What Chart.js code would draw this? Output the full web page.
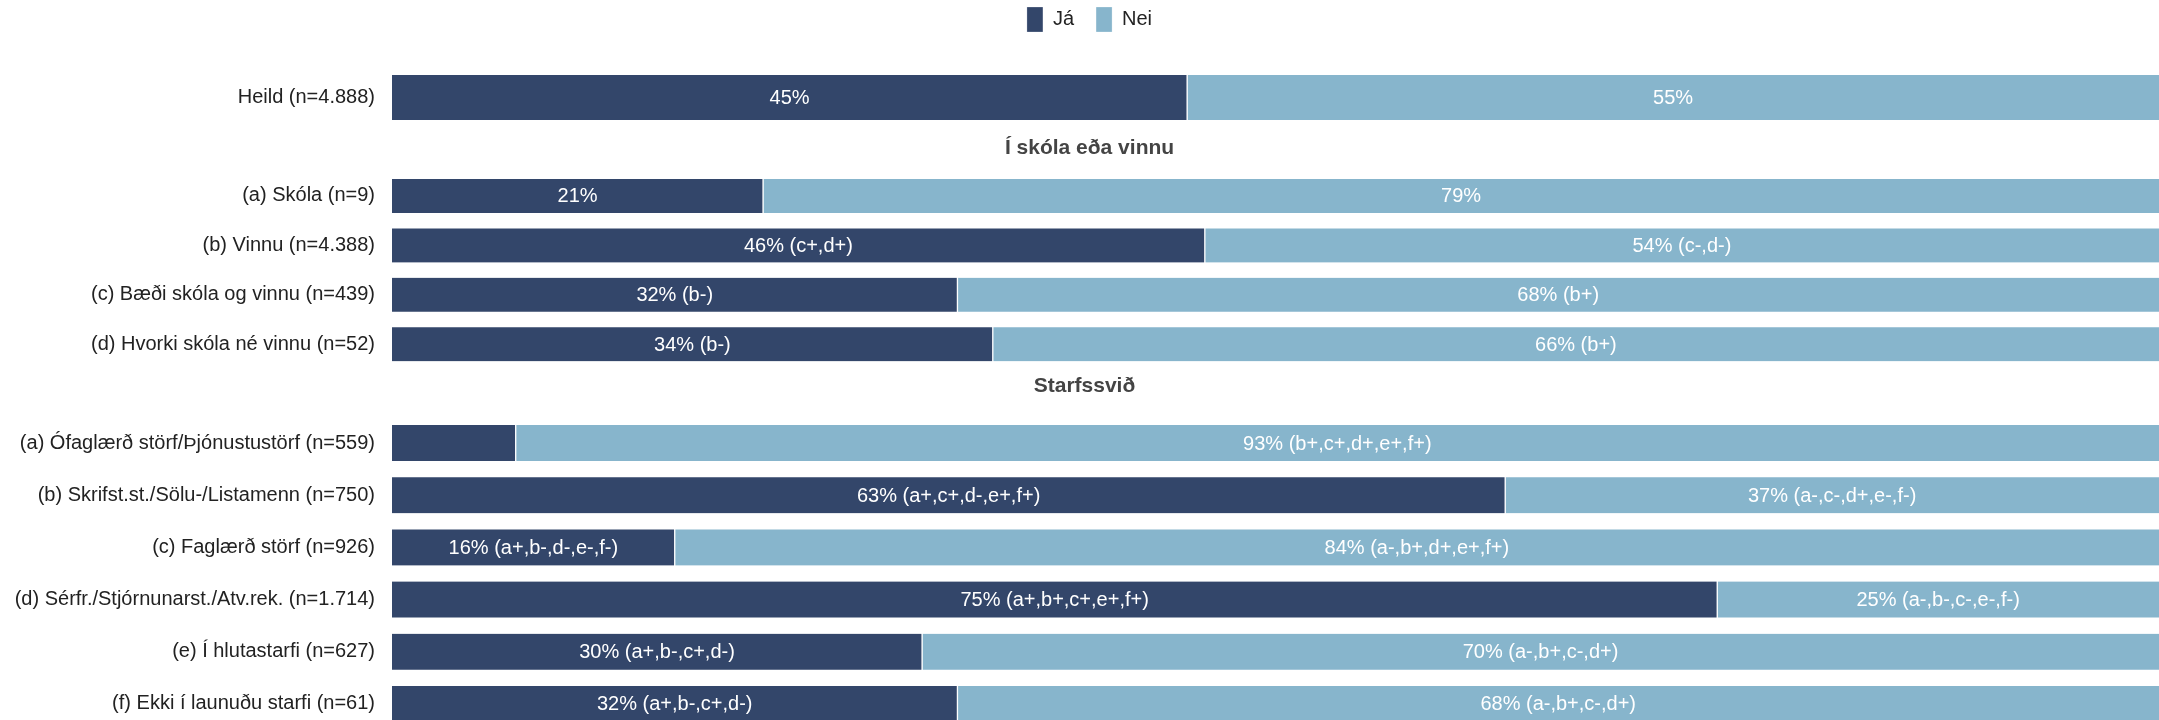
<!DOCTYPE html>
<html>
<head>
<meta charset="utf-8">
<script src="https://cdn.jsdelivr.net/npm/chart.js@4"></script>
<style>
  html, body { margin: 0; padding: 0; background: #fff; overflow: hidden; }
  .box { position: absolute; left: 0; width: 2159px; }
</style>
</head>
<body>
<div class="box" style="top:-15px;height:168px"><canvas id="heild"></canvas></div>
<div class="box" style="top:120px;height:249px"><canvas id="skoli"></canvas></div>
<div class="box" style="top:369px;height:361px"><canvas id="starf"></canvas></div>
<script>
// Series names
const seriesNames = ["Já", "Nei"];

// Heild
const heildCats = ["Heild (n=4.888)"];
const heildJa = [45];
const heildNei = [55];
const heildJaSuffix = [""];
const heildNeiSuffix = [""];

// Í skóla eða vinnu
const skoliTitle = "Í skóla eða vinnu";
const skoliCats = [
  "(a) Skóla (n=9)",
  "(b) Vinnu (n=4.388)",
  "(c) Bæði skóla og vinnu (n=439)",
  "(d) Hvorki skóla né vinnu (n=52)",
];
const skoliJa = [21, 46, 32, 34];
const skoliNei = [79, 54, 68, 66];
const skoliJaSuffix = ["", "(c+,d+)", "(b-)", "(b-)"];
const skoliNeiSuffix = ["", "(c-,d-)", "(b+)", "(b+)"];

// Starfssvið
const starfTitle = "Starfssvið";
const starfCats = [
  "(a) Ófaglærð störf/Þjónustustörf (n=559)",
  "(b) Skrifst.st./Sölu-/Listamenn (n=750)",
  "(c) Faglærð störf (n=926)",
  "(d) Sérfr./Stjórnunarst./Atv.rek. (n=1.714)",
  "(e) Í hlutastarfi (n=627)",
  "(f) Ekki í launuðu starfi (n=61)",
];
const starfJa = [7, 63, 16, 75, 30, 32];
const starfNei = [93, 37, 84, 25, 70, 68];
const starfJaSuffix = ["", "(a+,c+,d-,e+,f+)", "(a+,b-,d-,e-,f-)", "(a+,b+,c+,e+,f+)", "(a+,b-,c+,d-)", "(a+,b-,c+,d-)"];
const starfNeiSuffix = ["(b+,c+,d+,e+,f+)", "(a-,c-,d+,e-,f-)", "(a-,b+,d+,e+,f+)", "(a-,b-,c-,e-,f-)", "(a-,b+,c-,d+)", "(a-,b+,c-,d+)"];

const darkBlue = "#33466a";
const lightBlue = "#87b5cc";
const fontFamily = '"Liberation Sans", Arial, sans-serif';
const plotLeft = 392; // bars start here in every block

// white percentage labels in the middle of each segment
const barLabels = {
  id: "barLabels",
  afterDatasetsDraw(chart) {
    const ctx = chart.ctx;
    ctx.save();
    ctx.font = "20px " + fontFamily;
    ctx.fillStyle = "#fff";
    ctx.textAlign = "center";
    ctx.textBaseline = "middle";
    chart.data.datasets.forEach((ds, i) => {
      chart.getDatasetMeta(i).data.forEach((bar, j) => {
        const v = ds.data[j];
        if (v < 10) return; // too narrow for a label
        const suf = ds.suffix[j];
        ctx.fillText(v + "%" + (suf ? " " + suf : ""), (bar.x + bar.base) / 2, bar.y + 1);
      });
    });
    ctx.restore();
  },
};

// leftPad only nudges the centred legend / title to the right
function makeChart(id, cats, ja, nei, jaSuf, neiSuf, thickness, title, titlePad, showLegend, leftPad) {
  return new Chart(document.getElementById(id), {
    type: "bar",
    data: {
      labels: cats,
      datasets: [
        {
          label: seriesNames[0],
          data: ja,
          suffix: jaSuf,
          backgroundColor: darkBlue,
          borderColor: "#fff",
          borderWidth: { right: 1 },
          borderSkipped: false,
          barThickness: thickness,
        },
        {
          label: seriesNames[1],
          data: nei,
          suffix: neiSuf,
          backgroundColor: lightBlue,
          borderColor: "#fff",
          borderWidth: { left: 1 },
          borderSkipped: false,
          barThickness: thickness,
        },
      ],
    },
    options: {
      indexAxis: "y",
      responsive: true,
      maintainAspectRatio: false,
      animation: false,
      layout: { padding: { left: leftPad, right: 0, top: 0, bottom: 0 } },
      scales: {
        x: { stacked: true, min: 0, max: 100, display: false },
        y: {
          stacked: true,
          grid: { display: false, drawTicks: false },
          border: { display: false },
          ticks: {
            color: "#222",
            padding: 17,
            font: { size: 20, family: fontFamily },
          },
          afterFit: function (scale) {
            scale.width = plotLeft - leftPad;
            scale.paddingTop = 0;
            scale.paddingBottom = 0;
          },
        },
      },
      plugins: {
        legend: {
          display: showLegend,
          position: "top",
          labels: {
            boxWidth: 16,
            boxHeight: 25,
            padding: 22,
            color: "#222",
            font: { size: 20, family: fontFamily },
          },
        },
        title: {
          display: !!title,
          text: title,
          color: "#444",
          font: { size: 21, weight: "bold", family: fontFamily },
          padding: titlePad,
        },
        tooltip: { enabled: false },
      },
    },
    plugins: [barLabels],
  });
}

makeChart("heild", heildCats, heildJa, heildNei, heildJaSuffix, heildNeiSuffix, 45, "", 0, true, 20);
makeChart("skoli", skoliCats, skoliJa, skoliNei, skoliJaSuffix, skoliNeiSuffix, 34, skoliTitle, { top: 16, bottom: 10 }, false, 20);
makeChart("starf", starfCats, starfJa, starfNei, starfJaSuffix, starfNeiSuffix, 36, starfTitle, { top: 4.4, bottom: 18.4 }, false, 10);
</script>
</body>
</html>
